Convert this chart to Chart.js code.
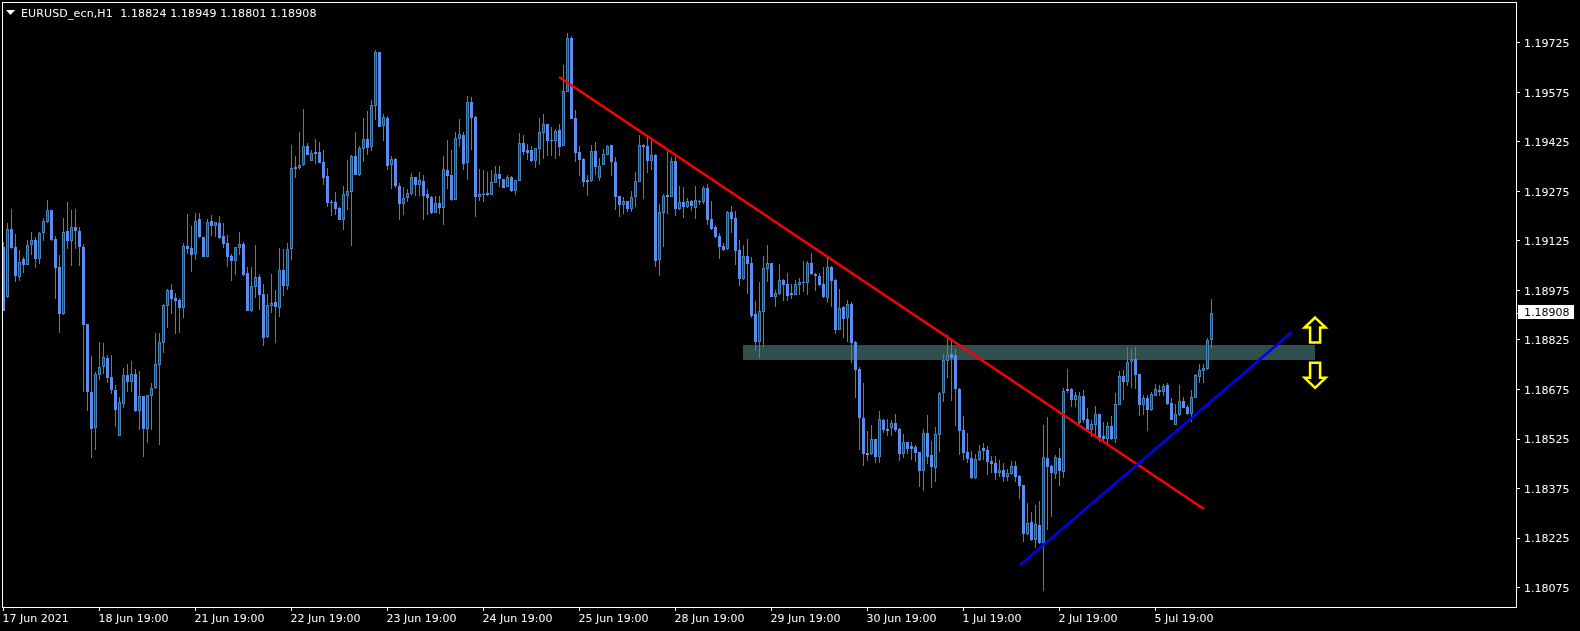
<!DOCTYPE html>
<html>
<head>
<meta charset="utf-8">
<title>EURUSD_ecn,H1</title>
<script src="https://cdn.jsdelivr.net/npm/chart.js@4/dist/chart.umd.min.js"></script>
<style>
  html, body { margin: 0; padding: 0; background: #000; }
  #wrap { width: 1580px; height: 631px; }
</style>
</head>
<body>
<div id="wrap"><canvas id="myChart" width="1580" height="631"></canvas></div>
<script>
const opens = [
1.19108,1.18956,1.19160,1.19106,1.19017,1.19069,1.19053,1.19114,1.19127,1.19071,
1.19148,1.19183,1.19219,1.19130,1.19045,1.18904,1.19154,1.19124,1.19166,1.19154,
1.19107,1.18873,1.18667,1.18559,1.18720,1.18742,1.18770,1.18712,1.18675,1.18535,
1.18632,1.18718,1.18699,1.18722,1.18611,1.18655,1.18556,1.18656,1.18680,1.18750,
1.18817,1.18929,1.18976,1.18952,1.18946,1.18923,1.19109,1.19103,1.19086,1.19191,
1.19137,1.19077,1.19185,1.19171,1.19179,1.19139,1.19119,1.19079,1.19065,1.19105,
1.19116,1.19027,1.18913,1.18986,1.19015,1.18964,1.18834,1.18929,1.18939,1.18923,
1.19037,1.18989,1.19100,1.19349,1.19346,1.19355,1.19413,1.19368,1.19395,1.19395,
1.19364,1.19322,1.19243,1.19243,1.19225,1.19189,1.19261,1.19273,1.19383,1.19325,
1.19405,1.19434,1.19411,1.19535,1.19698,1.19473,1.19498,1.19355,1.19372,1.19292,
1.19237,1.19255,1.19267,1.19319,1.19295,1.19307,1.19267,1.19258,1.19210,1.19240,
1.19225,1.19340,1.19325,1.19249,1.19434,1.19446,1.19361,1.19546,1.19501,1.19258,
1.19267,1.19270,1.19264,1.19301,1.19328,1.19313,1.19289,1.19319,1.19276,1.19307,
1.19422,1.19401,1.19401,1.19367,1.19404,1.19452,1.19479,1.19431,1.19428,1.19461,
1.19413,1.19577,1.19740,1.19499,1.19394,1.19373,1.19309,1.19306,1.19397,1.19316,
1.19355,1.19385,1.19416,1.19364,1.19261,1.19234,1.19246,1.19222,1.19258,1.19303,
1.19416,1.19413,1.19367,1.19385,1.19067,1.19210,1.19264,1.19258,1.19367,1.19222,
1.19243,1.19228,1.19246,1.19225,1.19246,1.19243,1.19285,1.19191,1.19167,1.19140,
1.19110,1.19100,1.19213,1.19194,1.19097,1.19010,1.19079,1.19058,1.18903,1.18819,
1.18910,1.19040,1.19058,1.18955,1.18964,1.19006,1.18994,1.18967,1.18961,1.18991,
1.19000,1.18997,1.19058,1.19025,1.19019,1.18994,1.18952,1.19046,1.19006,1.18855,
1.18925,1.18892,1.18934,1.18819,1.18737,1.18589,1.18482,1.18479,1.18525,1.18470,
1.18582,1.18555,1.18558,1.18573,1.18555,1.18479,1.18516,1.18504,1.18501,1.18486,
1.18428,1.18543,1.18476,1.18437,1.18537,1.18664,1.18761,1.18782,1.18779,1.18676,
1.18552,1.18486,1.18467,1.18407,1.18461,1.18498,1.18492,1.18458,1.18452,1.18422,
1.18431,1.18410,1.18419,1.18443,1.18413,1.18386,1.18237,1.18273,1.18219,1.18264,
1.18210,1.18467,1.18443,1.18419,1.18468,1.18426,1.18677,1.18677,1.18643,1.18574,
1.18655,1.18586,1.18552,1.18568,1.18601,1.18534,1.18525,1.18565,1.18525,1.18628,
1.18716,1.18698,1.18759,1.18768,1.18722,1.18628,1.18649,1.18613,1.18656,1.18674,
1.18668,1.18689,1.18634,1.18568,1.18598,1.18640,1.18622,1.18601,1.18649,1.18713,
1.18731,1.18737,1.18824];
const closes = [
1.18914,1.19160,1.19103,1.19019,1.19060,1.19052,1.19112,1.19127,1.19070,1.19148,
1.19184,1.19218,1.19128,1.19043,1.18904,1.19151,1.19126,1.19166,1.19155,1.19108,
1.18870,1.18668,1.18555,1.18721,1.18742,1.18772,1.18711,1.18673,1.18613,1.18636,
1.18718,1.18698,1.18721,1.18610,1.18655,1.18555,1.18657,1.18681,1.18751,1.18818,
1.18930,1.18976,1.18949,1.18943,1.18922,1.19109,1.19101,1.19082,1.19187,1.19137,
1.19077,1.19181,1.19170,1.19181,1.19134,1.19116,1.19077,1.19065,1.19106,1.19115,
1.19022,1.18913,1.18988,1.19015,1.18961,1.18832,1.18930,1.18936,1.18926,1.19036,
1.18988,1.19100,1.19345,1.19343,1.19355,1.19413,1.19386,1.19391,1.19389,1.19361,
1.19316,1.19240,1.19240,1.19222,1.19189,1.19267,1.19275,1.19383,1.19325,1.19407,
1.19434,1.19407,1.19537,1.19698,1.19470,1.19501,1.19352,1.19372,1.19292,1.19237,
1.19255,1.19270,1.19319,1.19295,1.19310,1.19261,1.19255,1.19210,1.19240,1.19225,
1.19342,1.19322,1.19249,1.19437,1.19449,1.19358,1.19546,1.19498,1.19258,1.19267,
1.19264,1.19264,1.19304,1.19328,1.19313,1.19286,1.19319,1.19276,1.19310,1.19422,
1.19395,1.19392,1.19367,1.19407,1.19454,1.19479,1.19428,1.19428,1.19458,1.19410,
1.19579,1.19740,1.19496,1.19391,1.19370,1.19303,1.19303,1.19399,1.19349,1.19352,
1.19387,1.19413,1.19364,1.19258,1.19234,1.19246,1.19222,1.19258,1.19306,1.19415,
1.19410,1.19367,1.19385,1.19064,1.19213,1.19261,1.19258,1.19367,1.19222,1.19243,
1.19228,1.19246,1.19231,1.19249,1.19243,1.19287,1.19188,1.19161,1.19137,1.19107,
1.19097,1.19213,1.19191,1.19094,1.19010,1.19079,1.19055,1.18897,1.18819,1.18913,
1.19043,1.19058,1.18955,1.18967,1.19006,1.18991,1.18958,1.18961,1.18994,1.19000,
1.18997,1.19058,1.19025,1.19019,1.18991,1.18955,1.19046,1.19003,1.18855,1.18922,
1.18889,1.18934,1.18816,1.18734,1.18589,1.18479,1.18476,1.18525,1.18470,1.18586,
1.18552,1.18549,1.18573,1.18552,1.18479,1.18516,1.18495,1.18495,1.18483,1.18428,
1.18543,1.18470,1.18440,1.18540,1.18664,1.18764,1.18779,1.18770,1.18676,1.18549,
1.18482,1.18464,1.18407,1.18464,1.18489,1.18489,1.18455,1.18449,1.18422,1.18431,
1.18410,1.18422,1.18443,1.18410,1.18383,1.18237,1.18270,1.18219,1.18267,1.18210,
1.18470,1.18440,1.18422,1.18470,1.18428,1.18671,1.18671,1.18643,1.18659,1.18655,
1.18583,1.18552,1.18571,1.18601,1.18528,1.18525,1.18565,1.18525,1.18631,1.18716,
1.18698,1.18759,1.18768,1.18719,1.18628,1.18649,1.18613,1.18662,1.18677,1.18668,
1.18686,1.18631,1.18583,1.18601,1.18640,1.18619,1.18601,1.18652,1.18718,1.18734,
1.18740,1.18825,1.18908];
const highs = [
1.19123,1.19178,1.19222,1.19146,1.19097,1.19075,1.19128,1.19151,1.19136,1.19152,
1.19196,1.19249,1.19219,1.19140,1.19084,1.19196,1.19242,1.19219,1.19222,1.19166,
1.19116,1.18873,1.18776,1.18729,1.18819,1.18815,1.18781,1.18779,1.18688,1.18653,
1.18740,1.18752,1.18761,1.18736,1.18731,1.18655,1.18658,1.18696,1.18845,1.18845,
1.18934,1.18981,1.18994,1.18966,1.18952,1.19118,1.19207,1.19170,1.19211,1.19211,
1.19137,1.19193,1.19204,1.19181,1.19201,1.19178,1.19143,1.19087,1.19106,1.19151,
1.19121,1.19047,1.19045,1.19113,1.19025,1.18994,1.18964,1.19025,1.18976,1.19103,
1.19100,1.19118,1.19416,1.19383,1.19454,1.19524,1.19423,1.19401,1.19434,1.19425,
1.19401,1.19346,1.19249,1.19273,1.19228,1.19292,1.19370,1.19386,1.19455,1.19413,
1.19497,1.19519,1.19552,1.19704,1.19698,1.19510,1.19504,1.19383,1.19376,1.19302,
1.19289,1.19283,1.19331,1.19319,1.19334,1.19325,1.19283,1.19261,1.19261,1.19261,
1.19383,1.19431,1.19401,1.19455,1.19495,1.19455,1.19564,1.19561,1.19504,1.19343,
1.19340,1.19334,1.19340,1.19352,1.19352,1.19313,1.19325,1.19322,1.19310,1.19452,
1.19446,1.19419,1.19413,1.19407,1.19498,1.19510,1.19479,1.19470,1.19464,1.19479,
1.19658,1.19754,1.19746,1.19522,1.19412,1.19376,1.19325,1.19416,1.19425,1.19376,
1.19403,1.19416,1.19416,1.19379,1.19261,1.19259,1.19246,1.19276,1.19334,1.19446,
1.19419,1.19440,1.19431,1.19388,1.19237,1.19267,1.19397,1.19379,1.19379,1.19291,
1.19288,1.19255,1.19249,1.19291,1.19249,1.19291,1.19297,1.19246,1.19173,1.19149,
1.19118,1.19216,1.19231,1.19216,1.19128,1.19113,1.19131,1.19076,1.18943,1.19000,
1.19079,1.19113,1.19058,1.18976,1.19055,1.19010,1.19028,1.18996,1.19006,1.19013,
1.19064,1.19064,1.19088,1.19028,1.19027,1.19046,1.19073,1.19049,1.19010,1.18979,
1.18928,1.18946,1.18940,1.18822,1.18743,1.18695,1.18549,1.18567,1.18525,1.18610,
1.18586,1.18586,1.18582,1.18601,1.18558,1.18540,1.18516,1.18516,1.18507,1.18486,
1.18555,1.18598,1.18519,1.18561,1.18667,1.18782,1.18840,1.18825,1.18798,1.18679,
1.18595,1.18543,1.18489,1.18479,1.18507,1.18513,1.18504,1.18473,1.18473,1.18461,
1.18452,1.18434,1.18458,1.18458,1.18416,1.18386,1.18331,1.18304,1.18325,1.18337,
1.18567,1.18592,1.18446,1.18476,1.18498,1.18680,1.18737,1.18680,1.18668,1.18668,
1.18674,1.18619,1.18583,1.18625,1.18601,1.18577,1.18577,1.18595,1.18665,1.18731,
1.18734,1.18804,1.18798,1.18804,1.18722,1.18659,1.18659,1.18668,1.18692,1.18689,
1.18692,1.18695,1.18649,1.18631,1.18689,1.18652,1.18628,1.18674,1.18721,1.18752,
1.18752,1.18831,1.18949];
const lows = [
1.18914,1.18951,1.19101,1.19002,1.19004,1.19029,1.19053,1.19082,1.19043,1.19055,
1.19125,1.19180,1.19126,1.18949,1.18847,1.18900,1.19101,1.19050,1.19100,1.19050,
1.18668,1.18611,1.18468,1.18491,1.18703,1.18722,1.18696,1.18661,1.18562,1.18535,
1.18619,1.18668,1.18668,1.18607,1.18552,1.18471,1.18514,1.18552,1.18678,1.18507,
1.18786,1.18861,1.18904,1.18844,1.18846,1.18892,1.19087,1.19032,1.19067,1.19135,
1.19077,1.19077,1.19141,1.19138,1.19132,1.19103,1.19047,1.19004,1.19022,1.19082,
1.19019,1.18913,1.18911,1.18951,1.18916,1.18808,1.18832,1.18906,1.18817,1.18894,
1.18958,1.18976,1.19067,1.19317,1.19340,1.19352,1.19384,1.19368,1.19358,1.19361,
1.19295,1.19228,1.19201,1.19204,1.19189,1.19158,1.19219,1.19110,1.19325,1.19322,
1.19364,1.19386,1.19398,1.19492,1.19470,1.19428,1.19340,1.19283,1.19286,1.19189,
1.19204,1.19243,1.19264,1.19261,1.19261,1.19189,1.19204,1.19207,1.19210,1.19207,
1.19173,1.19283,1.19246,1.19249,1.19410,1.19340,1.19310,1.19401,1.19198,1.19246,
1.19243,1.19261,1.19264,1.19301,1.19289,1.19286,1.19289,1.19273,1.19264,1.19307,
1.19386,1.19370,1.19364,1.19346,1.19355,1.19373,1.19383,1.19383,1.19373,1.19383,
1.19413,1.19577,1.19494,1.19364,1.19322,1.19288,1.19261,1.19303,1.19325,1.19306,
1.19355,1.19385,1.19322,1.19219,1.19197,1.19206,1.19212,1.19212,1.19228,1.19303,
1.19252,1.19331,1.19340,1.19046,1.19019,1.19106,1.19206,1.19258,1.19200,1.19219,
1.19194,1.19225,1.19216,1.19191,1.19234,1.19237,1.19173,1.19158,1.19134,1.19070,
1.19094,1.19097,1.19149,1.19052,1.18988,1.19006,1.18964,1.18891,1.18791,1.18770,
1.18804,1.19000,1.18955,1.18925,1.18961,1.18943,1.18943,1.18949,1.18961,1.18961,
1.18970,1.18961,1.19022,1.18973,1.18988,1.18952,1.18937,1.18925,1.18843,1.18855,
1.18831,1.18819,1.18755,1.18649,1.18492,1.18443,1.18458,1.18476,1.18452,1.18452,
1.18543,1.18534,1.18534,1.18546,1.18458,1.18467,1.18479,1.18461,1.18455,1.18380,
1.18367,1.18449,1.18376,1.18395,1.18486,1.18637,1.18710,1.18640,1.18564,1.18476,
1.18461,1.18452,1.18404,1.18404,1.18458,1.18461,1.18416,1.18422,1.18401,1.18410,
1.18395,1.18398,1.18416,1.18395,1.18343,1.18213,1.18234,1.18216,1.18195,1.18207,
1.18064,1.18249,1.18289,1.18404,1.18383,1.18407,1.18664,1.18622,1.18622,1.18571,
1.18574,1.18546,1.18532,1.18531,1.18516,1.18513,1.18507,1.18522,1.18513,1.18628,
1.18643,1.18686,1.18680,1.18677,1.18595,1.18598,1.18549,1.18610,1.18656,1.18656,
1.18656,1.18628,1.18583,1.18568,1.18595,1.18619,1.18598,1.18577,1.18649,1.18696,
1.18695,1.18734,1.18801];

// one label per 24 bars on the time axis
const timeLabels = ["17 Jun 2021","18 Jun 19:00","21 Jun 19:00","22 Jun 19:00","23 Jun 19:00","24 Jun 19:00",
  "25 Jun 19:00","28 Jun 19:00","29 Jun 19:00","30 Jun 19:00","1 Jul 19:00","2 Jul 19:00","5 Jul 19:00"];
const barsPerLabel = 24;
const priceTicks = [1.19725,1.19575,1.19425,1.19275,1.19125,1.18975,1.18825,1.18675,1.18525,1.18375,1.18225,1.18075];

const header = "EURUSD_ecn,H1  1.18824 1.18949 1.18801 1.18908";
const lastPrice = 1.18908;

// objects drawn on the chart, in bar index / price
const redLine = [{x: 138.9, y: 1.19622}, {x: 300.1, y: 1.18313}];
const blueLine = [{x: 254.1, y: 1.18143}, {x: 322.1, y: 1.18849}];
const zoneRange = {x0: 184.9, x1: 327.9, top: 1.18810, bottom: 1.18765};
const arrowUp = {x: 327.9, y: 1.18893};
const arrowDown = {x: 327.9, y: 1.18680};

const bullBody = '#0a3ae0';
const bearBody = '#5b8def';
const wickColor = '#4682b4';
const fontName = '"DejaVu Sans"';

const indexes = opens.map((_, i) => i);

// y and base are snapped to whole pixels so candles stay crisp like the terminal
const snapBars = {
    id: 'snapBars',
    afterDatasetsUpdate(chart) {
        chart.data.datasets.forEach((ds, n) => {
            if (ds.type !== 'bar') return;
            chart.getDatasetMeta(n).data.forEach(el => {
                el.y = Math.round(el.y);
                el.base = Math.round(el.base);
                if (el.base === el.y) el.base = el.y + 1;
            });
        });
    }
};

// zone goes under the candles
const zonePlugin = {
    id: 'zone',
    beforeDatasetsDraw(chart) {
        const { x, y } = chart.scales;
        const { ctx } = chart;
        const l = Math.round(x.getPixelForValue(zoneRange.x0));
        const r = Math.round(x.getPixelForValue(zoneRange.x1));
        const t = Math.round(y.getPixelForValue(zoneRange.top));
        const b = Math.round(y.getPixelForValue(zoneRange.bottom));
        ctx.fillStyle = '#2f4f4f';
        ctx.fillRect(l, t, r - l, b - t);
    }
};

const drawArrow = (ctx, cx, cy, dir) => {
    ctx.beginPath();
    ctx.moveTo(cx, cy);
    ctx.lineTo(cx + 10.5, cy + dir * 10);
    ctx.lineTo(cx + 5, cy + dir * 10);
    ctx.lineTo(cx + 5, cy + dir * 25);
    ctx.lineTo(cx - 5, cy + dir * 25);
    ctx.lineTo(cx - 5, cy + dir * 10);
    ctx.lineTo(cx - 10.5, cy + dir * 10);
    ctx.closePath();
    ctx.fillStyle = '#000';
    ctx.fill();
    ctx.strokeStyle = '#ffff00';
    ctx.lineWidth = 2.5;
    ctx.stroke();
};

const framePlugin = {
    id: 'frame',
    afterDraw(chart) {
        const { ctx, chartArea: a } = chart;
        const { x, y } = chart.scales;
        ctx.save();
        drawArrow(ctx, x.getPixelForValue(arrowUp.x), y.getPixelForValue(arrowUp.y), 1);
        drawArrow(ctx, x.getPixelForValue(arrowDown.x), y.getPixelForValue(arrowDown.y), -1);

        ctx.strokeStyle = '#fff';
        ctx.lineWidth = 1;
        ctx.strokeRect(a.left - 0.5, a.top - 0.5, a.right - a.left, a.bottom - a.top);

        // header
        ctx.fillStyle = '#fff';
        ctx.beginPath();
        ctx.moveTo(6, 10);
        ctx.lineTo(15, 10);
        ctx.lineTo(10.5, 15);
        ctx.closePath();
        ctx.fill();
        ctx.font = '11px ' + fontName;
        ctx.textAlign = 'left';
        ctx.textBaseline = 'alphabetic';
        ctx.letterSpacing = '0.13px';
        ctx.fillText(header, 21, 17);
        ctx.letterSpacing = '0px';

        // current price tag
        const py = Math.round(y.getPixelForValue(lastPrice));
        ctx.fillRect(a.right - 1, py, 3, 1);
        ctx.fillRect(a.right + 1, py - 8, 56, 14);
        ctx.fillStyle = '#000';
        ctx.fillText(lastPrice.toFixed(5), a.right + 7, py + 3);
        ctx.restore();
    }
};

new Chart(document.getElementById('myChart'), {
    data: {
        datasets: [
            {
                type: 'bar',
                data: indexes.map(i => ({ x: i, y: [lows[i], highs[i]] })),
                backgroundColor: wickColor,
                barThickness: 1,
                grouped: false,
                inflateAmount: 0,
                order: 3
            },
            {
                type: 'bar',
                data: indexes.map(i => ({ x: i, y: [opens[i], closes[i]] })),
                backgroundColor: indexes.map(i => closes[i] >= opens[i] ? bullBody : bearBody),
                borderColor: indexes.map(i => closes[i] >= opens[i] ? wickColor : bearBody),
                borderWidth: 1,
                borderSkipped: false,
                barThickness: 3,
                grouped: false,
                inflateAmount: 0,
                order: 2
            },
            {
                type: 'line',
                data: redLine,
                borderColor: '#ff0000',
                borderWidth: 2.5,
                pointRadius: 0,
                order: 1
            },
            {
                type: 'line',
                data: blueLine,
                borderColor: '#0000ff',
                borderWidth: 2.5,
                pointRadius: 0,
                order: 0
            }
        ]
    },
    plugins: [snapBars, zonePlugin, framePlugin],
    options: {
        responsive: false,
        animation: false,
        layout: { padding: { left: 3, top: 3, right: 0, bottom: 0 } },
        plugins: { legend: { display: false }, tooltip: { enabled: false } },
        scales: {
            x: {
                type: 'linear',
                offset: false,
                min: -0.125,
                max: 378.375,
                grid: { offset: false, drawOnChartArea: false, drawTicks: true, tickLength: 3, tickColor: '#fff' },
                border: { display: false },
                afterFit(scale) {
                    scale.height = 23;
                    scale.paddingLeft = 0;
                    scale.paddingRight = 0;
                },
                afterBuildTicks(scale) {
                    scale.ticks = timeLabels.map((_, k) => ({ value: k * barsPerLabel }));
                },
                afterTickToLabelConversion(scale) {
                    scale.ticks.forEach((t, k) => { t.label = timeLabels[k]; });
                },
                ticks: {
                    color: '#fff',
                    font: { family: 'DejaVu Sans', size: 11 },
                    align: 'start',
                    maxRotation: 0,
                    autoSkip: false,
                    labelOffset: -1,
                    padding: 2
                }
            },
            y: {
                position: 'right',
                min: 1.18013,
                max: 1.19846,
                grid: { drawOnChartArea: false, drawTicks: true, tickLength: 3, tickColor: '#fff' },
                border: { display: false },
                afterFit(scale) {
                    scale.width = 63;
                    scale.paddingTop = 0;
                    scale.paddingBottom = 0;
                },
                afterBuildTicks(scale) {
                    scale.ticks = priceTicks.map(v => ({ value: v }));
                },
                ticks: {
                    color: '#fff',
                    font: { family: 'DejaVu Sans', size: 11 },
                    padding: 4,
                    labelOffset: 1.5,
                    callback: v => v.toFixed(5)
                }
            }
        }
    }
});
</script>
</body>
</html>
